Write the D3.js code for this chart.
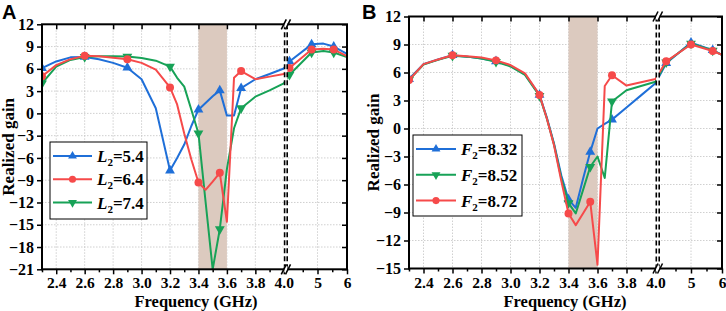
<!DOCTYPE html>
<html>
<head>
<meta charset="utf-8">
<script src="https://cdn.jsdelivr.net/npm/d3@7"></script>
<style>
  body { margin: 0; background: #fff; }
  svg { display: block; }
  text { font-family: "Liberation Serif", "Times New Roman", serif; font-weight: bold; fill: #000; }
</style>
</head>
<body>
<svg id="chart" width="726" height="311"></svg>
<script>
// DATA - panel A (L2 sweep)
const freqA = [2.3, 2.4, 2.5, 2.6, 2.7, 2.8, 2.9, 3.0, 3.1, 3.2, 3.25, 3.3, 3.35, 3.4, 3.45, 3.5, 3.55, 3.6, 3.65, 3.7, 3.8, 3.9, 4.0, 4.05, 4.8, 5.2, 5.55, 6.0]
const gainL54 = [6.1, 7.0, 7.55, 7.6, 7.3, 6.8, 6.15, 4.6, 0.7, -7.7, -6.0, -4.2, -1.7, 0.5, 1.4, 2.3, 3.1, -0.3, -0.3, 3.4, 4.6, 5.3, 6.05, 7.0, 9.3, 9.4, 9.0, 8.0]
const gainL64 = [5.0, 6.5, 7.3, 7.75, 7.7, 7.5, 7.3, 6.8, 5.9, 3.5, 1.2, -2.7, -6.2, -9.3, -10.3, -9.2, -8.0, -14.6, 4.8, 5.7, 4.6, 4.95, 5.3, 6.1, 8.6, 8.7, 8.6, 7.7]
const gainL74 = [4.05, 6.3, 7.2, 7.6, 7.7, 7.7, 7.65, 7.45, 7.1, 6.3, 4.8, 3.6, 0.5, -2.7, -11.9, -21.0, -15.6, -7.5, -2.0, 0.7, 2.25, 3.1, 4.05, 5.2, 8.2, 8.4, 8.2, 7.6]
const markA = [2.3, 2.6, 2.9, 3.2, 3.4, 3.55, 3.7, 4.05, 4.8, 5.55]

// DATA - panel B (F2 sweep)
const freqB = [2.3, 2.4, 2.5, 2.6, 2.7, 2.8, 2.9, 3.0, 3.1, 3.2, 3.25, 3.3, 3.35, 3.4, 3.45, 3.5, 3.55, 3.6, 3.65, 3.7, 3.8, 3.9, 4.0, 4.2, 5.0, 5.7, 6.0]
const gainF832 = [5.3, 6.9, 7.4, 7.85, 7.7, 7.5, 7.2, 6.7, 5.8, 3.6, 1.2, -1.6, -5.0, -7.6, -8.5, -5.4, -2.5, 0.0, 0.5, 0.95, 2.25, 3.55, 4.85, 7.0, 9.2, 8.4, 7.9]
const gainF852 = [5.2, 6.85, 7.35, 7.8, 7.7, 7.5, 7.15, 6.65, 5.75, 3.5, 1.1, -1.7, -5.3, -8.0, -9.1, -6.6, -4.1, -3.0, -5.3, 2.9, 4.1, 4.55, 5.0, 7.1, 9.1, 8.35, 7.9]
const gainF872 = [5.2, 6.9, 7.4, 7.85, 7.75, 7.6, 7.3, 6.8, 5.9, 3.6, 1.1, -1.8, -5.6, -9.1, -10.35, -9.1, -7.85, -14.6, 4.55, 5.7, 4.6, 4.95, 5.3, 7.2, 9.0, 8.3, 7.9]
const markB = [2.3, 2.6, 2.9, 3.2, 3.4, 3.55, 3.7, 4.2, 5.0, 5.7]

// axis ticks
const xTicks1 = [2.4, 2.6, 2.8, 3.0, 3.2, 3.4, 3.6, 3.8, 4.0]
const xMinor1 = [2.3, 2.5, 2.7, 2.9, 3.1, 3.3, 3.5, 3.7, 3.9]
const xTicks2 = [5, 6]
const xMinor2 = [4.5, 5.5]
const yTicksA = d3.range(-21, 13, 3)
const yTicksB = d3.range(-15, 13, 3)
const band = [3.4, 3.6]

const BLUE = "#1f6fd8", RED = "#f64a4a", GREEN = "#17a257"

const svg = d3.select("#chart")

function drawPanel(p) {
  const g = svg.append("g")
  const x1 = d3.scaleLinear().domain([2.3, 4.0]).range([p.left, p.brk1])
  const x2 = d3.scaleLinear().domain([4.0, 6.0]).range([p.brk2, p.right])
  const xPos = f => f <= 4.0 ? x1(f) : x2(f)
  const y = d3.scaleLinear().domain(p.yDomain).range([p.bottom, p.top])

  // grid
  const grid = g.append("g").attr("stroke", "#c4c4c4").attr("stroke-width", 0.8).attr("stroke-dasharray", "1.5,1.5")
  xTicks1.filter(t => t < 4).map(x1).concat([x2(5)]).forEach(px => {
    grid.append("line").attr("x1", px).attr("x2", px).attr("y1", p.top).attr("y2", p.bottom)
  })
  p.yTicks.filter(t => t > p.yDomain[0] && t < p.yDomain[1]).forEach(t => {
    grid.append("line").attr("x1", p.left).attr("x2", p.right).attr("y1", y(t)).attr("y2", y(t))
  })

  // shaded band
  g.append("rect")
    .attr("x", x1(band[0])).attr("width", x1(band[1]) - x1(band[0]))
    .attr("y", p.top).attr("height", p.bottom - p.top)
    .attr("fill", "#dccabf")

  // curves
  const clipId = "clip" + p.name
  svg.append("clipPath").attr("id", clipId).append("rect")
    .attr("x", p.left).attr("y", p.top).attr("width", p.right - p.left).attr("height", p.bottom - p.top + 1)
  const line = d3.line().x(d => xPos(d[0])).y(d => y(d[1]))
  const curves = g.append("g").attr("clip-path", `url(#${clipId})`)
  p.series.forEach(s => {
    const pts = p.freq.map((f, i) => [f, s.values[i]])
    curves.append("path").datum(pts)
      .attr("d", line).attr("fill", "none")
      .attr("stroke", s.color).attr("stroke-width", 2).attr("stroke-linejoin", "round")
    curves.selectAll(null)
      .data(pts.filter(d => p.marks.includes(d[0])))
      .join("path")
      .attr("d", d3.symbol().type(s.symbol).size(s.symbol === d3.symbolCircle ? 50 : 42))
      .attr("transform", d => `translate(${xPos(d[0])},${y(d[1])})` + (s.down ? " rotate(180)" : ""))
      .attr("fill", s.color)
  })

  // axis break gap
  g.append("rect").attr("x", p.brk1 + 0.6).attr("width", p.brk2 - p.brk1 - 1.2)
    .attr("y", p.top).attr("height", p.bottom - p.top).attr("fill", "#fff")
  ;[p.brk1 + 0.8, p.brk2 - 0.8].forEach(bx => {
    g.append("line").attr("x1", bx).attr("x2", bx).attr("y1", p.top).attr("y2", p.bottom)
      .attr("stroke", "#000").attr("stroke-width", 1.6).attr("stroke-dasharray", "5,3")
  })

  // axes
  const fmt1 = d3.format(".1f")
  const tickStyle = sel => {
    sel.select(".domain").remove()
    sel.selectAll("line").attr("stroke", "#000").attr("stroke-width", 1.5)
    sel.selectAll("text").style("font-size", "15.5px")
  }
  g.append("g").attr("transform", `translate(0,${p.bottom})`)
    .call(d3.axisBottom(x1).tickValues(xTicks1).tickFormat(fmt1).tickSize(5).tickPadding(3)).call(tickStyle)
  g.append("g").attr("transform", `translate(0,${p.bottom})`)
    .call(d3.axisBottom(x1).tickValues(xMinor1).tickFormat("").tickSize(3)).call(tickStyle)
  g.append("g").attr("transform", `translate(0,${p.bottom})`)
    .call(d3.axisBottom(x2).tickValues(xTicks2).tickFormat(d3.format("d")).tickSize(5).tickPadding(3)).call(tickStyle)
  g.append("g").attr("transform", `translate(0,${p.bottom})`)
    .call(d3.axisBottom(x2).tickValues(xMinor2).tickFormat("").tickSize(3)).call(tickStyle)
  // top mirror ticks (inward)
  g.append("g").attr("transform", `translate(0,${p.top})`)
    .call(d3.axisBottom(x1).tickValues(xTicks1.filter(t => t < 4)).tickFormat("").tickSize(5)).call(tickStyle)
  g.append("g").attr("transform", `translate(0,${p.top})`)
    .call(d3.axisBottom(x2).tickValues([5]).tickFormat("").tickSize(5)).call(tickStyle)
  // y axes
  g.append("g").attr("transform", `translate(${p.left},0)`)
    .call(d3.axisLeft(y).tickValues(p.yTicks).tickSize(5).tickPadding(3)).call(tickStyle)
  g.selectAll("g.tick text").filter(function () { return this.parentNode.parentNode.getAttribute("transform") === `translate(${p.left},0)` })
    .style("font-size", "16px")
  g.append("g").attr("transform", `translate(${p.right},0)`)
    .call(d3.axisLeft(y).tickValues(p.yTicks).tickFormat("").tickSize(5)).call(tickStyle)

  // frame
  g.append("rect").attr("x", p.left).attr("y", p.top)
    .attr("width", p.right - p.left).attr("height", p.bottom - p.top)
    .attr("fill", "none").attr("stroke", "#000").attr("stroke-width", 2)

  // break marks on top and bottom axes
  ;[p.top, p.bottom].forEach(ay => {
    g.append("rect").attr("x", p.brk1 + 0.5).attr("width", p.brk2 - p.brk1 - 1)
      .attr("y", ay - 3).attr("height", 6).attr("fill", "#fff")
    ;[p.brk1, p.brk2].forEach(bx => {
      g.append("line").attr("x1", bx - 2.5).attr("y1", ay + 5).attr("x2", bx + 2.5).attr("y2", ay - 5)
        .attr("stroke", "#000").attr("stroke-width", 1.6)
    })
  })

  // axis titles
  g.append("text").attr("transform", `translate(${p.ytX},${(p.top + p.bottom) / 2}) rotate(-90)`)
    .attr("text-anchor", "middle").style("font-size", "17px").text("Realized gain")
  g.append("text").attr("x", p.xtX).attr("y", 307)
    .attr("text-anchor", "middle").style("font-size", "16.5px").text("Frequency (GHz)")
  g.append("text").attr("x", p.letterX).attr("y", 19)
    .style("font-family", "'Liberation Sans', Arial, sans-serif").style("font-size", "20px").text(p.name)

  // legend
  const lg = p.legend
  g.append("rect").attr("x", lg.x).attr("y", lg.y).attr("width", lg.w).attr("height", lg.h)
    .attr("fill", "#fff").attr("stroke", "#000").attr("stroke-width", 1)
  lg.order.forEach((si, k) => {
    const s = p.series[si]
    const ly = lg.y0 + k * lg.dy
    g.append("line").attr("x1", lg.x + 3).attr("x2", lg.x + 3 + lg.lineLen).attr("y1", ly).attr("y2", ly)
      .attr("stroke", s.color).attr("stroke-width", 2)
    g.append("path")
      .attr("d", d3.symbol().type(s.symbol).size(s.symbol === d3.symbolCircle ? 40 : 34))
      .attr("transform", `translate(${lg.x + 3 + lg.lineLen / 2},${ly})` + (s.down ? " rotate(180)" : ""))
      .attr("fill", s.color)
    const t = g.append("text").attr("x", lg.x + lg.lineLen + 8).attr("y", ly + 6).style("font-size", "17px")
    t.append("tspan").style("font-style", "italic").text(p.varName)
    t.append("tspan").style("font-size", "11px").attr("dy", 4).text("2")
    t.append("tspan").attr("dy", -4).text("=" + s.label)
  })
}

drawPanel({
  name: "A", varName: "L", freq: freqA, marks: markA,
  left: 42, right: 347, brk1: 283.8, brk2: 288, top: 24.3, bottom: 269.3,
  yDomain: [-21, 12], yTicks: yTicksA, ytX: 14, xtX: 196, letterX: 2,
  series: [
    { label: "5.4", values: gainL54, color: BLUE, symbol: d3.symbolTriangle },
    { label: "7.4", values: gainL74, color: GREEN, symbol: d3.symbolTriangle, down: true },
    { label: "6.4", values: gainL64, color: RED, symbol: d3.symbolCircle }
  ],
  legend: { x: 50, y: 142, w: 97, h: 77, y0: 156, dy: 23.3, lineLen: 39, order: [0, 2, 1] }
})

drawPanel({
  name: "B", varName: "F", freq: freqB, marks: markB,
  left: 409, right: 722, brk1: 655.5, brk2: 660, top: 16.5, bottom: 268.5,
  yDomain: [-15, 12], yTicks: yTicksB, ytX: 379, xtX: 565, letterX: 362,
  series: [
    { label: "8.32", values: gainF832, color: BLUE, symbol: d3.symbolTriangle },
    { label: "8.52", values: gainF852, color: GREEN, symbol: d3.symbolTriangle, down: true },
    { label: "8.72", values: gainF872, color: RED, symbol: d3.symbolCircle }
  ],
  legend: { x: 413, y: 135, w: 109, h: 81, y0: 149, dy: 25.8, lineLen: 40, order: [0, 1, 2] }
})
</script>
</body>
</html>
